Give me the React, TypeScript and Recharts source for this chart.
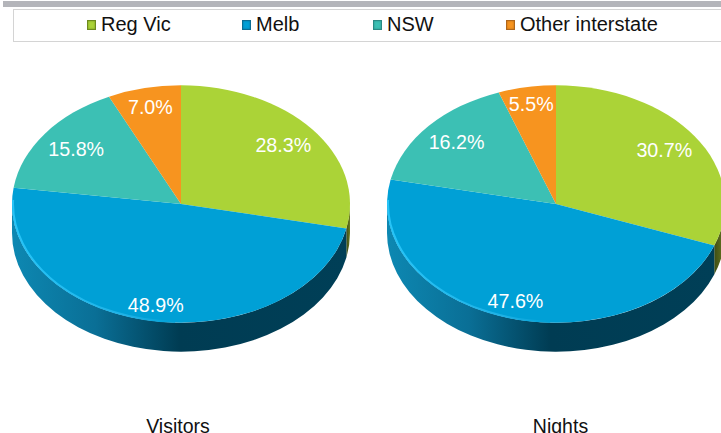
import React from "react";
import { PieChart, Pie, Cell } from "recharts";

const categories = ["Reg Vic", "Melb", "NSW", "Other interstate"];
const visitors = [28.3, 48.9, 15.8, 7.0];
const nights = [30.7, 47.6, 16.2, 5.5];
const panelTitles = ["Visitors", "Nights"];

const colors = ["#abd337", "#00a0d6", "#3cc0b4", "#f7941f"];
const swatchDark = ["#6d8a1e", "#0a6d94", "#2a8a84", "#b0661a"];
const wallFills = ["url(#wallGreen)", "url(#wallBlue)", "#2a8a84", "#b0661a"];

// label distance from centre, as a share of the radius, per slice
const visitorLabelPos = [0.78, 0.87, 0.77, 0.83];
const nightLabelPos = [0.78, 0.86, 0.78, 0.85];

const SQUASH = 0.702;
const DEPTH = 29;
const FONT = "'Liberation Sans', Arial, sans-serif";

const legendLefts = [87, 242, 373, 506];
const titleCentres = [178, 560.5];

const toRows = (values: number[]) =>
  categories.map((name, i) => ({ name, value: values[i] }));

const rad = (deg: number) => (deg * Math.PI) / 180;

// clockwise angle from 12 o'clock to a point on the flattened rim
const rimPoint = (cx: number, cy: number, r: number, t: number) => ({
  x: cx + r * Math.sin(rad(t)),
  y: cy - r * SQUASH * Math.cos(rad(t)),
});

const arcPath = (cx: number, cy: number, r: number, t1: number, t2: number) => {
  const b = rimPoint(cx, cy, r, t2);
  const large = Math.abs(t2 - t1) > 180 ? 1 : 0;
  const sweep = t2 > t1 ? 1 : 0;
  return `A${r},${r * SQUASH} 0 ${large} ${sweep} ${b.x},${b.y}`;
};

// one slice of the tilted pie: side wall (front half only) then the top face
const TiltedSector = (props: any) => {
  const { cx, cy, outerRadius: r, startAngle, endAngle, fill, name } = props;
  const t1 = 90 - startAngle;
  const t2 = 90 - endAngle;
  const a = rimPoint(cx, cy, r, t1);
  const idx = categories.indexOf(name);

  const w1 = Math.max(t1, 90);
  const w2 = Math.min(t2, 270);
  let wall = null;
  if (w2 > w1) {
    const p = rimPoint(cx, cy, r, w1);
    const q = rimPoint(cx, cy, r, w2);
    const d =
      `M${p.x},${p.y}` +
      arcPath(cx, cy, r, w1, w2) +
      `L${q.x},${q.y + DEPTH}` +
      arcPath(cx, cy + DEPTH, r, w2, w1) +
      "Z";
    wall = <path d={d} fill={wallFills[idx]} />;
  }

  // bright bevel along the lower left rim of the big slice
  let bevel = null;
  if (name === "Melb") {
    const s = rimPoint(cx, cy, r - 1, 182);
    bevel = (
      <path
        d={`M${s.x},${s.y}` + arcPath(cx, cy, r - 1, 182, 272)}
        fill="none"
        stroke="url(#bevelBlue)"
        strokeWidth={2}
      />
    );
  }

  return (
    <g>
      {wall}
      <path
        d={`M${cx},${cy}L${a.x},${a.y}` + arcPath(cx, cy, r, t1, t2) + "Z"}
        fill={fill}
      />
      {bevel}
    </g>
  );
};

const makeLabel = (positions: number[]) => (props: any) => {
  const { cx, cy, midAngle, outerRadius, index, value } = props;
  const p = rimPoint(cx, cy, outerRadius * positions[index], 90 - midAngle);
  return (
    <text
      x={p.x}
      y={p.y - 1}
      fill="#ffffff"
      fontFamily={FONT}
      fontSize={19.7}
      textAnchor="middle"
      dominantBaseline="central"
    >
      {value.toFixed(1)}%
    </text>
  );
};

const LegendBox = () => (
  <div style={{ position: "absolute", left: 0, top: 0, width: 721, height: 41, fontFamily: FONT, fontSize: 20, color: "#111" }}>
    {categories.map((name, i) => (
      <div key={name} style={{ position: "absolute", left: legendLefts[i], top: 13, display: "flex", alignItems: "center", whiteSpace: "nowrap" }}>
        <span
          style={{
            width: 9,
            height: 10,
            marginRight: 5,
            boxSizing: "border-box",
            border: `1px solid ${swatchDark[i]}`,
            background: colors[i],
            boxShadow: `inset 0 0 2px ${swatchDark[i]}`,
          }}
        />
        <span>{name}</span>
      </div>
    ))}
  </div>
);

export default function App() {
  return (
    <div style={{ position: "absolute", left: 0, top: 0, width: 721, height: 433, overflow: "hidden", background: "#fff" }}>
      <div style={{ position: "absolute", left: 3, top: 1, width: 718, height: 6, background: "#b4b5ba" }} />
      <div style={{ position: "absolute", left: 13, top: 9, width: 708, height: 31, borderLeft: "1px solid #d4d4d4", borderTop: "1px solid #d4d4d4", borderBottom: "1px solid #d4d4d4" }} />
      <LegendBox />

      <div style={{ position: "absolute", left: 0, top: 0 }}>
        <PieChart width={721} height={433} margin={{ top: 0, right: 0, bottom: 0, left: 0 }}>
          <defs>
            <linearGradient id="wallBlue" x1="0" y1="0" x2="1" y2="0">
              <stop offset="0%" stopColor="#0d88b2" />
              <stop offset="25%" stopColor="#0a6f96" />
              <stop offset="50%" stopColor="#003c53" />
              <stop offset="100%" stopColor="#003f57" />
            </linearGradient>
            <linearGradient id="wallGreen" x1="0" y1="0" x2="1" y2="0">
              <stop offset="0%" stopColor="#3f4d14" />
              <stop offset="100%" stopColor="#6a7a22" />
            </linearGradient>
            <linearGradient id="bevelBlue" x1="0" y1="0" x2="1" y2="0">
              <stop offset="0%" stopColor="#27c4f7" />
              <stop offset="70%" stopColor="#1fb2e6" />
              <stop offset="100%" stopColor="#00a0d6" />
            </linearGradient>
          </defs>
          <Pie
            data={toRows(visitors)}
            dataKey="value"
            nameKey="name"
            cx={181}
            cy={204}
            outerRadius={169}
            startAngle={90}
            endAngle={-270}
            stroke="none"
            shape={TiltedSector}
            label={makeLabel(visitorLabelPos)}
            labelLine={false}
            isAnimationActive={false}
          >
            {categories.map((name, i) => (
              <Cell key={name} fill={colors[i]} />
            ))}
          </Pie>
          <Pie
            data={toRows(nights)}
            dataKey="value"
            nameKey="name"
            cx={556}
            cy={204}
            outerRadius={169}
            startAngle={90}
            endAngle={-270}
            stroke="none"
            shape={TiltedSector}
            label={makeLabel(nightLabelPos)}
            labelLine={false}
            isAnimationActive={false}
          >
            {categories.map((name, i) => (
              <Cell key={name} fill={colors[i]} />
            ))}
          </Pie>
        </PieChart>
      </div>

      {panelTitles.map((title, i) => (
        <div
          key={title}
          style={{
            position: "absolute",
            left: titleCentres[i] - 60,
            width: 120,
            top: 415,
            textAlign: "center",
            fontFamily: FONT,
            fontSize: 19.5,
            color: "#111",
          }}
        >
          {title}
        </div>
      ))}
    </div>
  );
}
